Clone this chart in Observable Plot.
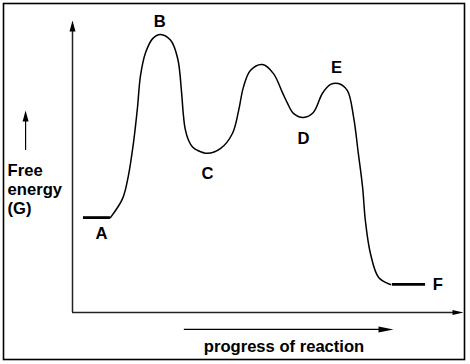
<!DOCTYPE html>
<html>
<head>
<meta charset="utf-8">
<script src="https://cdn.jsdelivr.net/npm/d3@7"></script>
<script src="https://cdn.jsdelivr.net/npm/@observablehq/plot@0.6"></script>
<style>
  html, body { margin: 0; padding: 0; background: white; }
</style>
</head>
<body>
<div id="chart"></div>
<script>
// Energy profile curve (x = progress of reaction, y = free energy; 0–100 units)
const curveX = [9.7, 12.8, 14.3, 15.6, 16.6, 17.4, 18.7, 20.5, 22.5, 25.1, 26.9, 27.9, 28.3, 28.8, 29.7, 30.7, 32.0, 34.5, 37.9, 40.9, 42.5, 43.7, 45.5, 48.6, 51.4, 53.7, 55.0, 56.5, 59.1, 61.6, 63.9, 66.0, 68.0, 70.3, 71.9, 73.1, 74.2, 74.9, 76.2, 78.3, 81.3];
const curveY = [32.5, 39.0, 46.9, 58.2, 69.9, 81.2, 89.0, 93.8, 95.2, 93.2, 87.0, 75.3, 68.5, 63.0, 58.9, 56.7, 55.5, 54.5, 56.2, 61.3, 69.2, 77.1, 82.9, 84.9, 81.8, 75.3, 71.6, 68.2, 66.8, 68.5, 75.0, 78.1, 78.4, 76.0, 66.8, 54.5, 42.8, 31.5, 20.2, 12.0, 9.6];

// Flat states (reactant A and product F)
const stateX1 = [2.8, 81.8];
const stateX2 = [9.7, 90.3];
const stateY = [32.5, 9.6];

// Point labels
const labelText = ["A", "B", "C", "D", "E", "F"];
const labelX = [7.4, 22.3, 34.5, 59.1, 67.5, 93.4];
const labelY = [27.1, 99.7, 47.6, 59.6, 83.9, 9.6];

// Axis titles
const yTitleLines = ["Free", "energy", "(G)"];
const yTitleX = -16.6;
const yTitleY = [48.6, 42.1, 35.6];
const xTitle = "progress of reaction";
const xTitleX = 54.1;
const xTitleY = -11.7;

// Direction arrows
const upArrow = {x: -12.0, y1: 55.5, y2: 69.2};
const rightArrow = {y: -5.8, x1: 28.6, x2: 82.1};

const curve = curveX.map((x, i) => ({x, y: curveY[i]}));
const states = stateX1.map((x1, i) => ({x1, x2: stateX2[i], y: stateY[i]}));
const labels = labelText.map((t, i) => ({t, x: labelX[i], y: labelY[i]}));
const yTitle = yTitleLines.map((t, i) => ({t, x: yTitleX, y: yTitleY[i]}));

function head(len, half) {
  return {
    draw(ctx) {
      ctx.moveTo(0, 0);
      ctx.lineTo(-half, len);
      ctx.lineTo(half, len);
      ctx.closePath();
    }
  };
}

const font = "'Liberation Sans', Arial, sans-serif";
const fs = 16.6;

const chart = Plot.plot({
  width: 470,
  height: 364,
  marginTop: 3,
  marginLeft: 3,
  marginRight: 6,
  marginBottom: 5,
  x: {domain: [0, 100], range: [72, 463], axis: null},
  y: {domain: [0, 100], range: [312, 20], axis: null},
  style: {fontFamily: font, background: "white", color: "black"},
  marks: [
    Plot.frame({stroke: "black", strokeWidth: 1.6}),
    // axes
    Plot.ruleX([0], {y1: 0, y2: 98, stroke: "#222", strokeWidth: 1.5}),
    Plot.ruleY([0], {x1: 0, x2: 98, stroke: "#222", strokeWidth: 1.5}),
    Plot.dot([{x: 0, y: 100}], {x: "x", y: "y", symbol: head(11, 3), fill: "black", stroke: null, r: 5}),
    Plot.dot([{x: 100, y: 0}], {x: "x", y: "y", symbol: head(11, 2.6), rotate: 90, fill: "black", stroke: null, r: 5}),
    // direction arrows
    Plot.ruleX([upArrow], {x: "x", y1: "y1", y2: (d) => d.y2 - 3, stroke: "black", strokeWidth: 1.2}),
    Plot.dot([upArrow], {x: "x", y: "y2", symbol: head(11, 3), fill: "black", stroke: null, r: 5}),
    Plot.ruleY([rightArrow], {y: "y", x1: "x1", x2: (d) => d.x2 - 3, stroke: "black", strokeWidth: 1.2}),
    Plot.dot([rightArrow], {x: "x2", y: "y", symbol: head(15, 3), rotate: 90, fill: "black", stroke: null, r: 5}),
    // curve
    Plot.line(curve, {x: "x", y: "y", curve: "catmull-rom", stroke: "black", strokeWidth: 1.5}),
    // states
    Plot.ruleY(states, {y: "y", x1: "x1", x2: "x2", stroke: "black", strokeWidth: 2.8}),
    // labels
    Plot.text(labels, {x: "x", y: "y", text: "t", fontSize: fs, fontWeight: "bold", fill: "black", lineAnchor: "middle"}),
    Plot.text(yTitle, {x: "x", y: "y", text: "t", fontSize: fs, fontWeight: "bold", fill: "black", textAnchor: "start", lineAnchor: "middle"}),
    Plot.text([xTitle], {x: xTitleX, y: xTitleY, text: (d) => d, fontSize: fs, fontWeight: "bold", fill: "black", lineAnchor: "middle"})
  ]
});
document.getElementById("chart").appendChild(chart);
</script>
</body>
</html>
